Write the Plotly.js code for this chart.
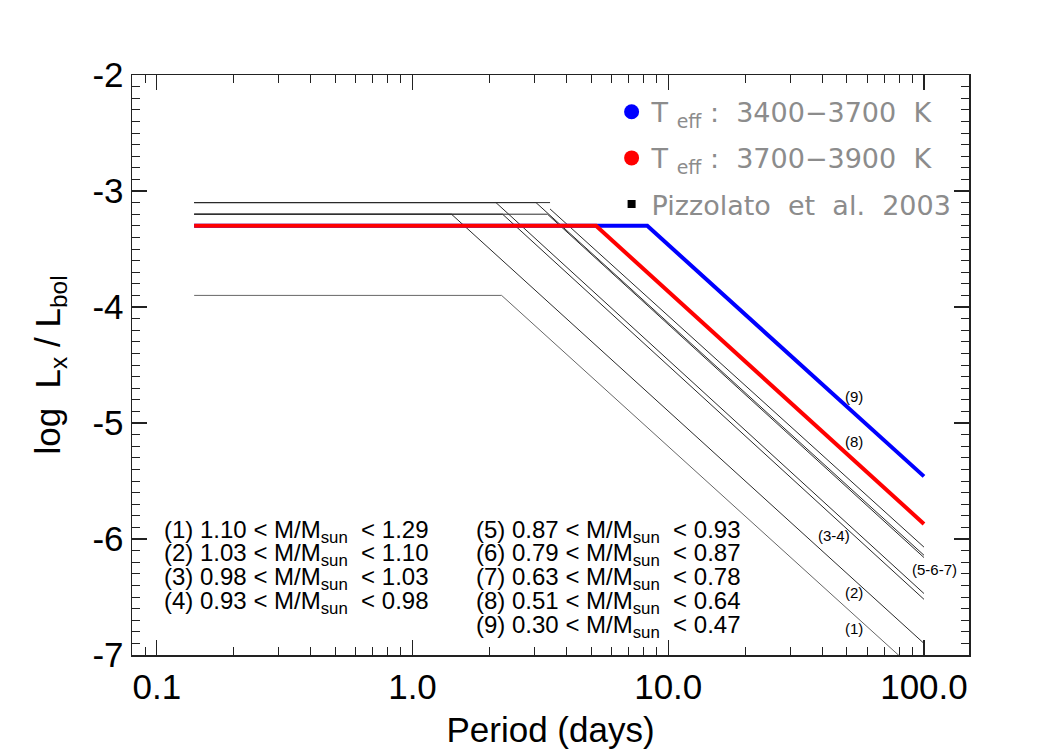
<!DOCTYPE html>
<html>
<head>
<meta charset="utf-8">
<script src="https://cdn.plot.ly/plotly-3.0.1.min.js"></script>
<style>html,body{margin:0;padding:0;background:#fff;}#chart{width:1050px;height:750px;}</style>
</head>
<body>
<div id="chart"></div>
<script>
// ---- data ----
// Pizzolato et al. (2003) relations: vertices (period in days, log Lx/Lbol)
const p1 = [0.14, 2.23, 100];   const v1 = [-3.9, -3.9, -7.2];
const p2 = [0.14, 1.42, 100];   const v2 = [-3.2, -3.2, -6.9];
const p3 = [0.14, 2.12, 100];   const v3 = [-3.1, -3.1, -6.47];
const p4 = [0.14, 2.25, 100];   const v4 = [-3.2, -3.2, -6.52];
const p5 = [0.14, 3.04, 100];   const v5 = [-3.1, -3.1, -6.14];
const p6 = [0.14, 3.45, null, 3.45, 100]; const v6 = [-3.1, -3.1, null, -3.155, -6.07];
const p7 = [0.14, 3.37, 100];   const v7 = [-3.2, -3.2, -6.16];
// this work
const p8 = [0.14, 5.22, 100];   const v8 = [-3.3, -3.3, -5.87];   // Teff 3700-3900 K (red)
const p9 = [0.14, 8.28, 100];   const v9 = [-3.3, -3.3, -5.46];   // Teff 3400-3700 K (blue)

const legendNames = ['T\u00a0<sub>eff</sub>\u00a0:\u00a0\u00a03400\u22123700\u00a0\u00a0K',
                     'T\u00a0<sub>eff</sub>\u00a0:\u00a0\u00a03700\u22123900\u00a0\u00a0K',
                     'Pizzolato\u00a0\u00a0et\u00a0\u00a0al.\u00a0\u00a02003'];
const curveLabels = ['(9)', '(8)', '(3-4)', '(2)', '(1)', '(5-6-7)'];
const massLeft  = ['(1) 1.10 &lt; M/M<sub>sun</sub>  &lt; 1.29',
                   '(2) 1.03 &lt; M/M<sub>sun</sub>  &lt; 1.10',
                   '(3) 0.98 &lt; M/M<sub>sun</sub>  &lt; 1.03',
                   '(4) 0.93 &lt; M/M<sub>sun</sub>  &lt; 0.98'];
const massRight = ['(5) 0.87 &lt; M/M<sub>sun</sub>  &lt; 0.93',
                   '(6) 0.79 &lt; M/M<sub>sun</sub>  &lt; 0.87',
                   '(7) 0.63 &lt; M/M<sub>sun</sub>  &lt; 0.78',
                   '(8) 0.51 &lt; M/M<sub>sun</sub>  &lt; 0.64',
                   '(9) 0.30 &lt; M/M<sub>sun</sub>  &lt; 0.47'];
const xTickVals = [0.1, 1, 10, 100];
const xTickText = ['0.1', '1.0', '10.0', '100.0'];
const xMinorVals = [0.09, 0.2, 0.3, 0.4, 0.5, 0.6, 0.7, 0.8, 0.9, 2, 3, 4, 5, 6, 7, 8, 9,
                    20, 30, 40, 50, 60, 70, 80, 90];
const yTickVals = [-7, -6, -5, -4, -3, -2];
const yTickText = ['-7', '-6', '-5', '-4', '-3', '-2'];

// ---- styling / placement ----
const FONT = 'Liberation Sans, Arial, Helvetica, sans-serif';
const thin = (p, v, c) => ({x: p, y: v, type: 'scatter', mode: 'lines', showlegend: false,
  hoverinfo: 'skip', connectgaps: false, line: {color: c || '#2a2a2a', width: 1}});

const traces = [
  thin(p1, v1, '#666'), thin(p2, v2), thin(p3, v3), thin(p4, v4),
  thin(p5, v5), thin(p6, v6), thin(p7, v7),
  {x: p9, y: v9, type: 'scatter', mode: 'lines', showlegend: false, line: {color: '#0000ff', width: 4}},
  {x: p8, y: v8, type: 'scatter', mode: 'lines', showlegend: false, line: {color: '#ff0000', width: 4}},
  // legend entries
  {x: [null], y: [null], type: 'scatter', mode: 'markers', name: legendNames[0], legendgroup: 'a',
   marker: {color: '#0000ff', size: 15, symbol: 'circle'}},
  {x: [null], y: [null], type: 'scatter', mode: 'markers', name: legendNames[1], legendgroup: 'b',
   marker: {color: '#ff0000', size: 15, symbol: 'circle'}},
  {x: [null], y: [null], type: 'scatter', mode: 'markers', name: legendNames[2], legendgroup: 'c',
   marker: {color: '#000000', size: 8, symbol: 'square'}}
];

const labelPos = [[1.727, -4.773], [1.727, -5.161], [1.650, -5.966], [1.727, -6.463], [1.727, -6.77], [2.040, -6.267]];
const annotations = [];
curveLabels.forEach((t, i) => annotations.push({
  text: t, x: labelPos[i][0], y: labelPos[i][1], xref: 'x', yref: 'y', showarrow: false,
  xanchor: 'center', yanchor: 'middle', font: {family: FONT, size: 15, color: '#000'}
}));
const rowY = [531, 554, 578, 602, 626];
const toPaperY = py => (655 - py) / 580;
const toPaperX = px => (px - 132) / 837;
massLeft.forEach((t, i) => annotations.push({
  text: t, x: toPaperX(162), y: toPaperY(rowY[i]), xref: 'paper', yref: 'paper', showarrow: false,
  xanchor: 'left', yanchor: 'middle', font: {family: FONT, size: 24, color: '#000'}
}));
massRight.forEach((t, i) => annotations.push({
  text: t, x: toPaperX(474), y: toPaperY(rowY[i]), xref: 'paper', yref: 'paper', showarrow: false,
  xanchor: 'left', yanchor: 'middle', font: {family: FONT, size: 24, color: '#000'}
}));

const axisCommon = {
  showline: true, linecolor: '#222', linewidth: 1.5, mirror: 'ticks', ticks: 'inside',
  tickcolor: '#222', tickwidth: 1.2, ticklen: 15, showgrid: false, zeroline: false,
  tickfont: {family: FONT, size: 35, color: '#000'}
};

const layout = {
  width: 1050, height: 750,
  margin: {l: 132, r: 81, t: 75, b: 95},
  paper_bgcolor: '#fff', plot_bgcolor: '#fff',
  xaxis: Object.assign({}, axisCommon, {
    type: 'log', range: [Math.log10(0.08), Math.log10(150)],
    tickmode: 'array', tickvals: xTickVals, ticktext: xTickText,
    minor: {tickmode: 'array', tickvals: xMinorVals, ticks: 'inside', ticklen: 8, tickcolor: '#222', tickwidth: 1, showgrid: false},
    title: {text: 'Period (days)', font: {family: FONT, size: 35, color: '#000'}, standoff: 13}
  }),
  yaxis: Object.assign({}, axisCommon, {
    range: [-7, -2], tickmode: 'array', tickvals: yTickVals, ticktext: yTickText,
    minor: {dtick: 0.1, ticks: 'inside', ticklen: 8, tickcolor: '#222', tickwidth: 1, showgrid: false},
    title: {text: 'log  L<sub>x</sub> / L<sub>bol</sub>', font: {family: FONT, size: 35, color: '#000'}, standoff: 21}
  }),
  showlegend: true,
  legend: {x: 0.573, y: 0.978, xanchor: 'left', yanchor: 'top', bgcolor: 'rgba(0,0,0,0)',
    borderwidth: 0, tracegroupgap: 8, itemclick: false,
    font: {family: 'DejaVu Sans, sans-serif', size: 27, color: '#8c8c8c'}},
  annotations: annotations
};

Plotly.newPlot('chart', traces, layout, {staticPlot: true, displayModeBar: false});
</script>
</body>
</html>
